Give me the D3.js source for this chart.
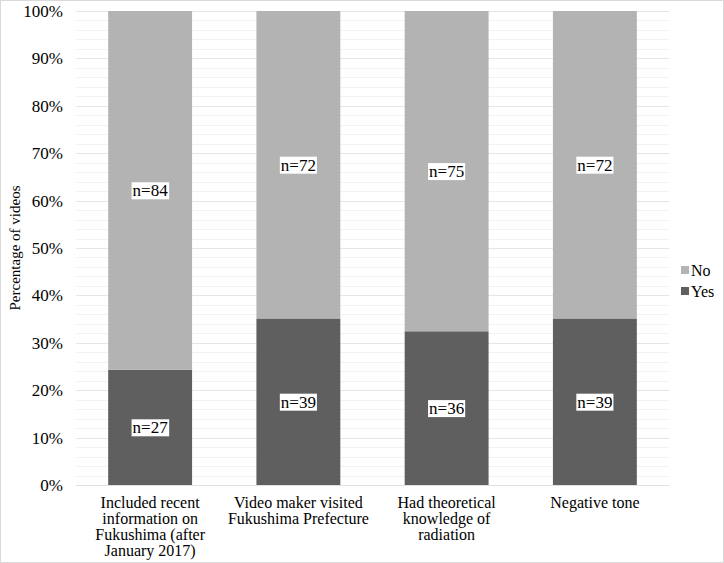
<!DOCTYPE html>
<html>
<head>
<meta charset="utf-8">
<script src="https://cdn.jsdelivr.net/npm/d3@7"></script>
<style>
  body { margin: 0; background: #fff; }
</style>
</head>
<body>
<div id="chart"></div>
<script>
// data
const categories = [
  ["Included recent", "information on", "Fukushima (after", "January 2017)"],
  ["Video maker visited", "Fukushima Prefecture"],
  ["Had theoretical", "knowledge of", "radiation"],
  ["Negative tone"]
];
const yesCounts = [27, 39, 36, 39];
const noCounts = [84, 72, 75, 72];
const seriesNames = ["No", "Yes"];
const yTicks = [0, 10, 20, 30, 40, 50, 60, 70, 80, 90, 100];

const width = 724, height = 563;
const margin = { left: 76, right: 55, top: 11, bottom: 78 };
const chartWidth = width - margin.left - margin.right;
const chartHeight = height - margin.top - margin.bottom;

const colors = { Yes: "#5f5f5f", No: "#b3b3b3" };
const serif = "Times New Roman, Liberation Serif, serif";

const svg = d3.select("#chart").append("svg")
  .attr("width", width)
  .attr("height", height)
  .style("font-family", serif);

// light border round the chart
svg.append("rect")
  .attr("x", 0.5).attr("y", 0.5)
  .attr("width", width - 1).attr("height", height - 1)
  .attr("fill", "#fff").attr("stroke", "#d9d9d9");

const g = svg.append("g")
  .attr("transform", `translate(${margin.left}, ${margin.top})`);

const x = d3.scaleBand().domain(d3.range(categories.length)).range([0, chartWidth]).paddingInner(0.434).paddingOuter(0.217);
const y = d3.scaleLinear().domain([0, 100]).range([chartHeight, 0]);

// minor + major gridlines
g.append("g").selectAll("line")
  .data(d3.range(0, 101, 2))
  .enter().append("line")
    .attr("x1", 0).attr("x2", chartWidth)
    .attr("y1", d => Math.round(y(d)) + 0.5).attr("y2", d => Math.round(y(d)) + 0.5)
    .attr("stroke", d => d % 10 === 0 ? "#e6e6e6" : "#f2f2f2")
    .attr("stroke-width", 1);

// stacked data in percent
const rows = categories.map((c, i) => {
  const total = yesCounts[i] + noCounts[i];
  return { i, Yes: yesCounts[i] / total * 100, No: noCounts[i] / total * 100, nYes: yesCounts[i], nNo: noCounts[i] };
});
const stack = d3.stack().keys(["Yes", "No"])(rows);

const layers = g.selectAll("g.layer")
  .data(stack)
  .enter().append("g")
    .attr("class", "layer")
    .attr("fill", d => colors[d.key]);

layers.selectAll("rect")
  .data(d => d)
  .enter().append("rect")
    .attr("x", d => x(d.data.i))
    .attr("width", x.bandwidth())
    .attr("y", d => y(d[1]))
    .attr("height", d => y(d[0]) - y(d[1]));

// axis line at 0%
g.append("line")
  .attr("x1", 0).attr("x2", chartWidth)
  .attr("y1", chartHeight + 0.5).attr("y2", chartHeight + 0.5)
  .attr("stroke", "#e0e0e0");

// n= labels with white boxes
stack.forEach(layer => {
  layer.forEach(d => {
    const cx = x(d.data.i) + x.bandwidth() / 2;
    const cy = y((d[0] + d[1]) / 2);
    const n = layer.key === "Yes" ? d.data.nYes : d.data.nNo;
    const lg = g.append("g");
    const t = lg.append("text")
      .attr("x", cx).attr("y", cy)
      .attr("dy", "0.35em")
      .attr("text-anchor", "middle")
      .attr("font-size", 17)
      .text("n=" + n);
    const bb = t.node().getBBox();
    lg.insert("rect", "text")
      .attr("x", bb.x - 1).attr("y", bb.y + 1)
      .attr("width", bb.width + 2).attr("height", bb.height - 2)
      .attr("fill", "#fff");
  });
});

// y tick labels
g.append("g").selectAll("text")
  .data(yTicks)
  .enter().append("text")
    .attr("x", -13)
    .attr("y", d => y(d))
    .attr("dy", "0.35em")
    .attr("text-anchor", "end")
    .attr("font-size", 17)
    .text(d => d + "%");

// category labels
const cat = g.append("g").selectAll("text")
  .data(categories)
  .enter().append("text")
    .attr("text-anchor", "middle")
    .attr("font-size", 16)
    .attr("transform", (d, i) => `translate(${x(i) + x.bandwidth() / 2}, ${chartHeight + 23})`);
cat.selectAll("tspan")
  .data(d => d)
  .enter().append("tspan")
    .attr("x", 0)
    .attr("y", (d, j) => j * 16)
    .text(d => d);

// y-axis title
svg.append("text")
  .attr("transform", `translate(20, ${margin.top + chartHeight / 2}) rotate(-90)`)
  .attr("text-anchor", "middle")
  .attr("font-size", 15)
  .text("Percentage of videos");

// legend
const legend = svg.append("g").attr("transform", "translate(681, 270)");
seriesNames.forEach((s, i) => {
  legend.append("rect")
    .attr("x", 0).attr("y", i * 21 - 4)
    .attr("width", 8).attr("height", 8)
    .attr("fill", colors[s]);
  legend.append("text")
    .attr("x", 10).attr("y", i * 21)
    .attr("dy", "0.35em")
    .attr("font-size", 16)
    .text(s);
});
</script>
</body>
</html>
